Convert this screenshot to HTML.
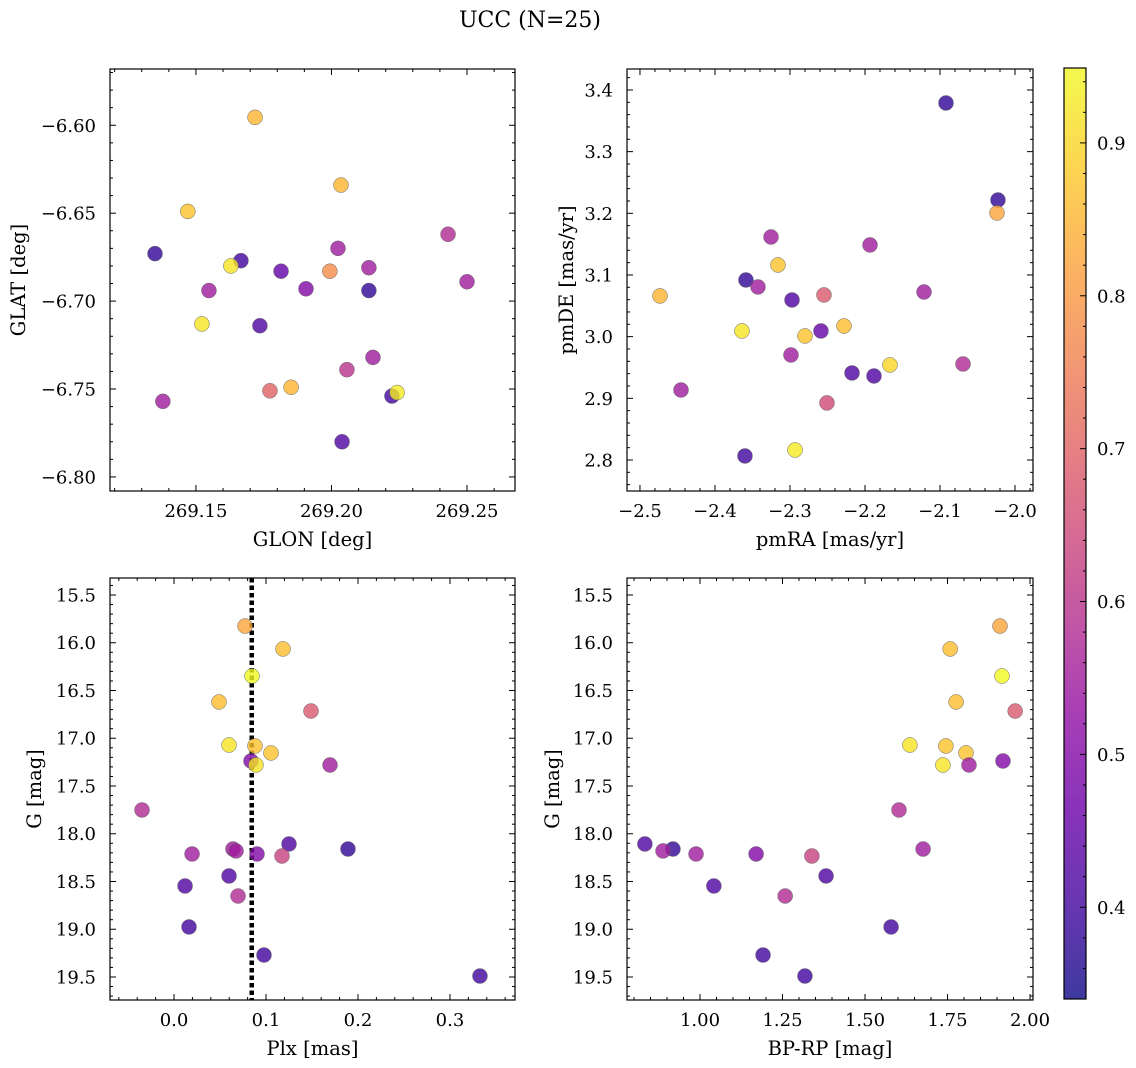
<!DOCTYPE html>
<html><head><meta charset="utf-8"><style>
body{margin:0;background:#fff;}
svg{display:block;font-family:"DejaVu Serif","Liberation Serif",serif;}
</style></head><body>
<svg id="fig" width="1136" height="1068" viewBox="0 0 1136 1068" xmlns="http://www.w3.org/2000/svg">
<rect width="1136" height="1068" fill="#fff"/>
<text x="530" y="27" font-size="22" text-anchor="middle">UCC (N=25)</text>
</svg>
<script>
// ---- data ----
const glon = [269.1718,269.2035,269.1470,269.1349,269.1666,269.1629,269.2430,269.2024,269.1814,269.1994,269.2138,269.2500,269.1548,269.1906,269.2138,269.1522,269.1736,269.2153,269.2057,269.1773,269.1851,269.1378,269.2223,269.2242,269.2039];
const glat = [-6.5955,-6.634,-6.649,-6.673,-6.677,-6.680,-6.662,-6.670,-6.683,-6.683,-6.681,-6.689,-6.694,-6.693,-6.694,-6.713,-6.714,-6.732,-6.739,-6.751,-6.749,-6.757,-6.754,-6.752,-6.780];
const probPos = [0.85,0.85,0.87,0.38,0.40,0.92,0.58,0.55,0.45,0.78,0.55,0.55,0.55,0.50,0.38,0.92,0.42,0.55,0.60,0.70,0.85,0.55,0.40,0.93,0.42];
const pmra = [-2.092,-2.0227,-2.024,-2.4733,-2.3253,-2.1933,-2.316,-2.3587,-2.3427,-2.2547,-2.1213,-2.2973,-2.364,-2.28,-2.228,-2.2587,-2.2987,-2.1667,-2.0693,-2.2173,-2.188,-2.4453,-2.2507,-2.36,-2.2933];
const pmde = [3.3789,3.2216,3.2005,3.066,3.1616,3.1487,3.1162,3.0919,3.0806,3.0676,3.0724,3.0595,3.0092,3.0011,3.0173,3.0092,2.9703,2.9541,2.9557,2.9411,2.9362,2.9135,2.8925,2.8065,2.8162];
const probPm = [0.38,0.38,0.82,0.85,0.55,0.55,0.87,0.38,0.55,0.68,0.55,0.42,0.92,0.87,0.86,0.45,0.55,0.90,0.58,0.42,0.42,0.55,0.65,0.40,0.93];
const plx = [0.0772,0.1185,0.0848,0.0489,0.1489,0.0598,0.088,0.1054,0.0837,0.0891,0.1696,-0.0348,0.125,0.0641,0.1891,0.0674,0.0196,0.0902,0.1174,0.0598,0.012,0.0696,0.0163,0.0978,0.3326];
const gmag = [15.825,16.065,16.348,16.62,16.715,17.071,17.081,17.154,17.238,17.28,17.28,17.751,18.107,18.16,18.16,18.18,18.212,18.212,18.233,18.442,18.547,18.652,18.976,19.27,19.49];
const bprp = [1.909,1.758,1.915,1.776,1.955,1.636,1.745,1.806,1.918,1.736,1.815,1.603,0.833,1.676,0.918,0.888,0.988,1.170,1.339,1.382,1.042,1.258,1.579,1.191,1.318];
const probPhot = [0.82,0.86,0.95,0.86,0.68,0.92,0.87,0.87,0.50,0.92,0.55,0.58,0.42,0.55,0.38,0.55,0.55,0.50,0.63,0.42,0.42,0.58,0.40,0.40,0.40];
const plxLine = 0.0845;
const cbTicks = [0.4,0.5,0.6,0.7,0.8,0.9];

const NS="http://www.w3.org/2000/svg";
const svg=document.getElementById('fig');
function mk(t,a,p){const e=document.createElementNS(NS,t);for(const k in a)e.setAttribute(k,a[k]);(p||svg).appendChild(e);return e;}
const stops=[[0,13,8,135],[0.1,65,4,157],[0.2,106,0,168],[0.3,143,13,164],[0.4,177,42,144],[0.5,204,71,120],[0.6,225,100,98],[0.7,242,132,75],[0.8,252,166,54],[0.9,252,206,37],[1,240,249,33]];
const VMIN=0.34,VMAX=0.95;
function plasma(v){let t=(v-VMIN)/(VMAX-VMIN);t=Math.max(0,Math.min(1,t));
 for(let i=1;i<stops.length;i++){if(t<=stops[i][0]){const a=stops[i-1],b=stops[i],f=(t-a[0])/(b[0]-a[0]);
 return `rgb(${Math.round(a[1]+f*(b[1]-a[1]))},${Math.round(a[2]+f*(b[2]-a[2]))},${Math.round(a[3]+f*(b[3]-a[3]))})`;}}return 'rgb(240,249,33)';}
function fmt(v,d){const s=Math.abs(v).toFixed(d);return (v<-1e-9?'\u2212':'')+s;}

function panel(o){
 const {x0,x1,y0,y1,xmin,xmax,ymin,ymax,invY,xMaj,xMin,yMaj,yMin,xd,yd,name}=o;
 const sx=v=>x0+(v-xmin)/(xmax-xmin)*(x1-x0);
 const sy=v=>invY? y0+(v-ymin)/(ymax-ymin)*(y1-y0) : y1-(v-ymin)/(ymax-ymin)*(y1-y0);
 const g=mk('g',{});
 
 
 if(o.vline!==undefined){const l=mk('line',{x1:sx(o.vline),x2:sx(o.vline),y1:y0,y2:y1,stroke:'#000','stroke-width':4.5,'stroke-dasharray':'4.5,3'},g);
  }
 o.xs.forEach((xv,i)=>{const c=mk('circle',{cx:sx(xv),cy:sy(o.ys[i]),r:7.5,fill:plasma(o.c[i]),'fill-opacity':0.8,stroke:'#666','stroke-width':0.5},g);
  });
 mk('rect',{x:x0,y:y0,width:x1-x0,height:y1-y0,fill:'none',stroke:'#000','stroke-width':1.2},g);
 const ticks=(step,lo,hi)=>{const r=[];for(let k=Math.ceil(lo/step-1e-6);k*step<=hi+1e-9;k++)r.push(k*step);return r;};
 const isMaj=(v,M)=>Math.abs(v/M-Math.round(v/M))<1e-4;
 ticks(xMin,xmin,xmax).forEach(v=>{const X=sx(v),L=isMaj(v,xMaj)?6:3;
  mk('line',{x1:X,x2:X,y1:y1,y2:y1-L,stroke:'#000','stroke-width':1},g);mk('line',{x1:X,x2:X,y1:y0,y2:y0+L,stroke:'#000','stroke-width':1},g);});
 ticks(yMin,ymin,ymax).forEach(v=>{const Y=sy(v),L=isMaj(v,yMaj)?6:3;
  mk('line',{x1:x0,x2:x0+L,y1:Y,y2:Y,stroke:'#000','stroke-width':1},g);mk('line',{x1:x1,x2:x1-L,y1:Y,y2:Y,stroke:'#000','stroke-width':1},g);});
 ticks(xMaj,xmin,xmax).forEach(v=>{const t=mk('text',{x:sx(v),y:y1+26,'font-size':18,'text-anchor':'middle'},g);t.textContent=fmt(v,xd);
  });
 ticks(yMaj,ymin,ymax).forEach(v=>{const t=mk('text',{x:x0-14,y:sy(v)+6.5,'font-size':18,'text-anchor':'end'},g);t.textContent=fmt(v,yd);
  });
 const xl=mk('text',{x:(x0+x1)/2,y:y1+55,'font-size':19.5,'text-anchor':'middle'},g);xl.textContent=o.xlab;
 
 const yl=mk('text',{x:0,y:0,'font-size':19.5,'text-anchor':'middle',transform:`translate(${o.ylx},${(y0+y1)/2}) rotate(-90)`},g);yl.textContent=o.ylab;
 
}
panel({name:'glon-glat-panel',x0:110,x1:515,y0:69,y1:491,xmin:269.1183,xmax:269.2677,ymin:-6.808,ymax:-6.568,xMaj:0.05,xMin:0.01,yMaj:0.05,yMin:0.01,xd:2,yd:2,xs:glon,ys:glat,c:probPos,xlab:'GLON [deg]',ylab:'GLAT [deg]',ylx:25});
panel({name:'pm-panel',x0:627,x1:1033,y0:69,y1:491,xmin:-2.5173,xmax:-1.976,ymin:2.7497,ymax:3.434,xMaj:0.1,xMin:0.02,yMaj:0.1,yMin:0.02,xd:1,yd:1,xs:pmra,ys:pmde,c:probPm,xlab:'pmRA [mas/yr]',ylab:'pmDE [mas/yr]',ylx:573});
panel({name:'plx-g-panel',x0:110,x1:515,y0:578,y1:1000,xmin:-0.0696,xmax:0.3707,ymin:15.322,ymax:19.741,invY:true,xMaj:0.1,xMin:0.02,yMaj:0.5,yMin:0.1,xd:1,yd:1,xs:plx,ys:gmag,c:probPhot,xlab:'Plx [mas]',ylab:'G [mag]',ylx:41,vline:plxLine});
panel({name:'cmd-panel',x0:627,x1:1033,y0:578,y1:1000,xmin:0.7788,xmax:2.009,ymin:15.322,ymax:19.741,invY:true,xMaj:0.25,xMin:0.05,yMaj:0.5,yMin:0.1,xd:2,yd:1,xs:bprp,ys:gmag,c:probPhot,xlab:'BP-RP [mag]',ylab:'G [mag]',ylx:559});

// colorbar
const cb=mk('g',{});


const CX0=1064,CX1=1086,CY0=68,CY1=999,CMIN=0.340,CMAX=0.949;
const cy=v=>CY1-(v-CMIN)/(CMAX-CMIN)*(CY1-CY0);
const defs=mk('defs',{},cb);const lg=mk('linearGradient',{id:'pl',x1:0,y1:1,x2:0,y2:0},defs);
for(let i=0;i<=40;i++){const v=CMIN+(CMAX-CMIN)*i/40;mk('stop',{offset:i/40,'stop-color':plasma(v)},lg);}
mk('rect',{x:CX0,y:CY0,width:CX1-CX0,height:CY1-CY0,fill:'url(#pl)','fill-opacity':0.8},cb);
mk('rect',{x:CX0,y:CY0,width:CX1-CX0,height:CY1-CY0,fill:'none',stroke:'#000','stroke-width':1.2},cb);
for(let k=18;k<=47;k++){const v=k*0.02;if(v<CMIN||v>CMAX)continue;const maj=k%5===0;
 mk('line',{x1:CX1,x2:CX1-(maj?6:3),y1:cy(v),y2:cy(v),stroke:'#000','stroke-width':1},cb);}
cbTicks.forEach(v=>{const t=mk('text',{x:CX1+11,y:cy(v)+6.5,'font-size':18},cb);t.textContent=v.toFixed(1);
 });
</script>
</body></html>
